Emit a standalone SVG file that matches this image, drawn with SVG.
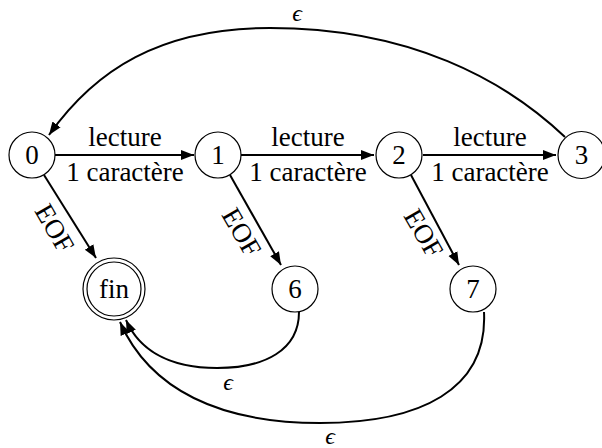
<svg xmlns="http://www.w3.org/2000/svg" width="602" height="448" viewBox="0 0 602 448">
  <style>
    .node circle { fill: #ffffff; stroke: #000000; stroke-width: 1.2; }
    .nlabel { font-family: "Liberation Serif", "DejaVu Serif", serif; font-size: 27px; text-anchor: middle; fill: #000000; }
    .elabel { font-family: "Liberation Serif", "DejaVu Serif", serif; font-size: 27px; text-anchor: middle; fill: #000000; }
    .eps { font-family: "Liberation Serif", "DejaVu Serif", serif; font-style: italic; font-size: 24px; text-anchor: middle; fill: #000000; }
    .edge { fill: none; stroke: #000000; stroke-width: 2; marker-end: url(#arrow); }
  </style>
  <defs>
    <marker id="arrow" markerUnits="userSpaceOnUse" markerWidth="14" markerHeight="12" viewBox="0 0 14 12" refX="13" refY="6" orient="auto">
      <path d="M0,1 L13,6 L0,11 Z" fill="#000000"/>
    </marker>
  </defs>

  <g id="connectors">
    <path class="edge" d="M55,155 L194,155"/>
    <path class="edge" d="M241,155 L374,155"/>
    <path class="edge" d="M423,155 L556,155"/>
    <path class="edge" d="M565,137 C505,80 410,28 270,28 C160,28 95,70 49,135"/>
    <path class="edge" d="M44,175 L96,258"/>
    <path class="edge" d="M230,175 L281,265"/>
    <path class="edge" d="M411,175 L459,265"/>
    <path class="edge" d="M299,312 C299,350 265,368 217,368 C165,368 138,347 126,320"/>
    <path class="edge" d="M484,312 C488,390 420,423 320,423 C220,423 150,390 120,322"/>
  </g>

  <g id="edge-labels">
    <text class="elabel" x="125" y="146">lecture</text>
    <text class="elabel" x="125" y="181">1 caractère</text>
    <text class="elabel" x="308" y="146">lecture</text>
    <text class="elabel" x="308" y="181">1 caractère</text>
    <text class="elabel" x="490" y="146">lecture</text>
    <text class="elabel" x="490" y="181">1 caractère</text>
    <text class="elabel" transform="translate(55,228) rotate(60)" dy="0.35em">EOF</text>
    <text class="elabel" transform="translate(242,232) rotate(60)" dy="0.35em">EOF</text>
    <text class="elabel" transform="translate(424,233) rotate(60)" dy="0.35em">EOF</text>
    <text class="eps" x="297" y="21">ϵ</text>
    <text class="eps" x="228" y="390">ϵ</text>
    <text class="eps" x="330" y="444">ϵ</text>
  </g>

  <g id="node-0" class="node">
    <circle cx="32" cy="155" r="23"/>
    <text class="nlabel" x="32" y="164">0</text>
  </g>
  <g id="node-1" class="node">
    <circle cx="218" cy="155" r="23"/>
    <text class="nlabel" x="218" y="164">1</text>
  </g>
  <g id="node-2" class="node">
    <circle cx="399" cy="155" r="23"/>
    <text class="nlabel" x="399" y="164">2</text>
  </g>
  <g id="node-3" class="node">
    <circle cx="581.5" cy="155" r="23.5"/>
    <text class="nlabel" x="581.5" y="164">3</text>
  </g>
  <g id="node-fin" class="node">
    <circle cx="114" cy="289" r="31"/>
    <circle cx="114" cy="289" r="27"/>
    <text class="nlabel" x="114" y="298">fin</text>
  </g>
  <g id="node-6" class="node">
    <circle cx="295" cy="289" r="23"/>
    <text class="nlabel" x="295" y="298">6</text>
  </g>
  <g id="node-7" class="node">
    <circle cx="473" cy="289" r="23"/>
    <text class="nlabel" x="473" y="298">7</text>
  </g>
</svg>
